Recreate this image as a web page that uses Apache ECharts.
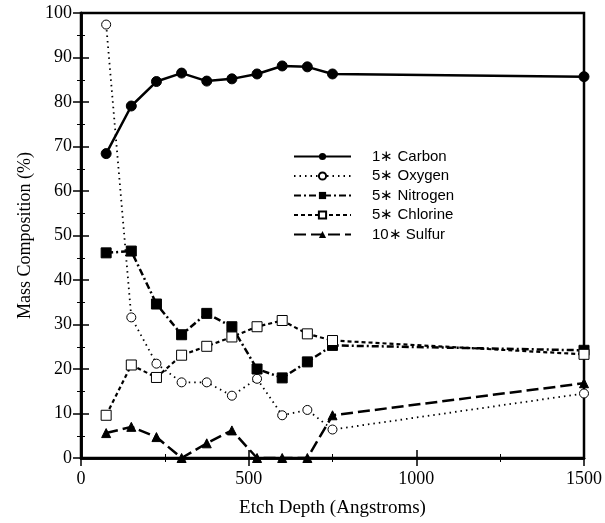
<!DOCTYPE html>
<html>
<head>
    <meta charset="UTF-8">
    <title>Mass Composition vs Etch Depth</title>
    <script src="https://cdn.jsdelivr.net/npm/echarts@6/dist/echarts.min.js"></script>
    <style>
        html, body { margin: 0; padding: 0; background: #fff; }
        #chart { width: 605px; height: 523px; }
    </style>
</head>
<body>
<div id="chart"></div>
<script>
    // etch depth (Angstroms)
    var depth = [75, 150, 225, 300, 375, 450, 525, 600, 675, 750, 1500];
    // scaled mass composition (%)
    var carbon   = [68.4, 79.1, 84.6, 86.5, 84.7, 85.2, 86.3, 88.1, 87.9, 86.3, 85.7];
    var oxygen   = [97.4, 31.6, 21.2, 17.0, 17.0, 14.0, 17.8, 9.6, 10.8, 6.4, 14.5];
    var nitrogen = [46.1, 46.5, 34.6, 27.7, 32.5, 29.5, 20.0, 18.0, 21.6, 25.3, 24.2];
    var chlorine = [9.6, 20.9, 18.1, 23.1, 25.1, 27.2, 29.5, 30.9, 27.9, 26.4, 23.3];
    var sulfur   = [5.6, 7.0, 4.7, 0, 3.3, 6.2, 0, 0, 0, 9.6, 16.8];
    var names = ['1\u2217 Carbon', '5\u2217 Oxygen', '5\u2217 Nitrogen', '5\u2217 Chlorine', '10\u2217 Sulfur'];

    function pairs(ys) {
        return depth.map(function (x, i) { return [x, ys[i]]; });
    }

    var serif = '"Liberation Serif", "DejaVu Serif", serif';
    var tick = { show: true, inside: true, length: 8, lineStyle: { color: '#000', width: 1.5 } };
    var minor = { show: true, splitNumber: 2, length: 4, lineStyle: { color: '#000', width: 1 } };

    var chart = echarts.init(document.getElementById('chart'));
    chart.setOption({
        animation: false,
        backgroundColor: '#fff',
        grid: { left: 81, right: 19, top: 13, bottom: 61, show: true, borderColor: '#000', borderWidth: 2.5 },
        legend: {
            orient: 'vertical',
            left: 288,
            top: 144,
            itemWidth: 57,
            itemHeight: 9,
            itemGap: 4.5,
            data: names,
            textStyle: { fontFamily: '"Liberation Sans", Arial, sans-serif', fontSize: 15, color: '#000', padding: [0, 0, 0, 16] }
        },
        xAxis: [{
            type: 'value', min: 0, max: 1500, interval: 500,
            name: 'Etch Depth (Angstroms)', nameLocation: 'middle', nameGap: 41,
            nameTextStyle: { fontFamily: serif, fontSize: 19, color: '#000' },
            axisLine: { show: true, lineStyle: { color: '#000', width: 2.5 } },
            axisTick: tick, minorTick: minor, splitLine: { show: false },
            axisLabel: { fontFamily: serif, fontSize: 18, color: '#000', margin: 12,
                formatter: function (v) { return String(v); } }
        }, {
            type: 'value', position: 'top', min: 0, max: 1500, interval: 500,
            axisLine: { show: true, lineStyle: { color: '#000', width: 2.5 } },
            axisTick: tick, minorTick: minor, splitLine: { show: false },
            axisLabel: { show: false }
        }],
        yAxis: [{
            type: 'value', min: 0, max: 100, interval: 10,
            name: 'Mass Composition (%)', nameLocation: 'middle', nameGap: 47,
            nameTextStyle: { fontFamily: serif, fontSize: 18, color: '#000' },
            axisLine: { show: true, lineStyle: { color: '#000', width: 2.5 } },
            axisTick: tick, minorTick: minor, splitLine: { show: false },
            axisLabel: { fontFamily: serif, fontSize: 18, color: '#000', margin: 9 }
        }, {
            type: 'value', position: 'right', min: 0, max: 100, interval: 10,
            axisLine: { show: true, lineStyle: { color: '#000', width: 2.5 } },
            axisTick: tick, minorTick: minor, splitLine: { show: false },
            axisLabel: { show: false }
        }],
        series: [{
            name: names[0], type: 'line', data: pairs(carbon),
            symbol: 'circle', symbolSize: 10,
            lineStyle: { color: '#000', width: 2.5, type: 'solid' },
            itemStyle: { color: '#000', borderColor: '#000' }
        }, {
            name: names[1], type: 'line', data: pairs(oxygen),
            symbol: 'circle', symbolSize: 9,
            lineStyle: { color: '#000', width: 1.8, type: [1.5, 4] },
            itemStyle: { color: '#fff', borderColor: '#000', borderWidth: 1 }
        }, {
            name: names[2], type: 'line', data: pairs(nitrogen),
            symbol: 'rect', symbolSize: 10,
            lineStyle: { color: '#000', width: 2.5, type: [7, 3, 2, 3] },
            itemStyle: { color: '#000', borderColor: '#000' }
        }, {
            name: names[3], type: 'line', data: pairs(chlorine),
            symbol: 'rect', symbolSize: 10,
            lineStyle: { color: '#000', width: 2.2, type: [4, 3] },
            itemStyle: { color: '#fff', borderColor: '#000', borderWidth: 1 }
        }, {
            name: names[4], type: 'line', data: pairs(sulfur),
            symbol: 'triangle', symbolSize: 9,
            lineStyle: { color: '#000', width: 2.5, type: [12, 5] },
            itemStyle: { color: '#000', borderColor: '#000' }
        }]
    });
</script>
</body>
</html>
